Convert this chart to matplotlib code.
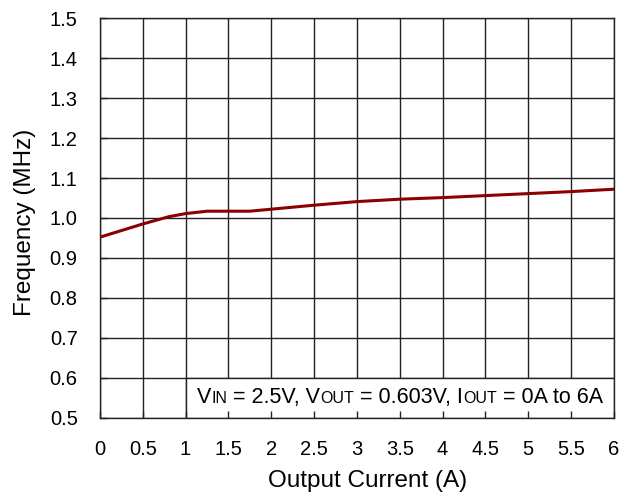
import matplotlib
matplotlib.use("Agg")
import matplotlib.pyplot as plt
from matplotlib.patches import Rectangle
from matplotlib.offsetbox import TextArea, HPacker, AnchoredOffsetbox
import numpy as np

plt.rcParams['font.family'] = ['Liberation Sans', 'DejaVu Sans']

# switching frequency vs load
current = [0, 0.5, 0.8, 1.0, 1.25, 1.75, 2.0, 2.5, 3.0, 3.5, 4.0, 4.5, 5.0, 5.5, 6.0]
freq = [0.952, 0.985, 1.003, 1.011, 1.017, 1.017, 1.022, 1.032, 1.041, 1.047,
        1.051, 1.056, 1.061, 1.066, 1.072]

xticks = np.arange(0, 6.01, 0.5)
yticks = np.arange(0.5, 1.501, 0.1)
xlabels = ['0', '0.5', '1', '1.5', '2', '2.5', '3', '3.5', '4', '4.5', '5', '5.5', '6']
ylabels = ['%.1f' % v for v in yticks]

fig = plt.figure(figsize=(6.36, 4.95), dpi=100)
ax = fig.add_axes([0.157, 0.1556, 0.8084, 0.808])

# grid drawn by hand so the note box can cover it
for xv in xticks:
    ax.axvline(xv, color='#222222', lw=1.0, zorder=0.5)
for yv in yticks:
    ax.axhline(yv, color='#222222', lw=1.0, zorder=0.5)

ax.plot(current, freq, color='#8b0000', lw=2.2, zorder=3)

ax.set_xlim(0, 6)
ax.set_ylim(0.5, 1.5)
ax.set_xticks(xticks)
ax.set_xticklabels(xlabels)
ax.set_yticks(yticks)
ax.set_yticklabels(ylabels)
ax.tick_params(axis='both', direction='in', length=5, width=1, color='#222222',
               labelsize=14.5)
ax.tick_params(axis='x', pad=15.5)
ax.tick_params(axis='y', pad=16)
for s in ax.spines.values():
    s.set_linewidth(1.0)
    s.set_color('#222222')

ax.set_xlabel('Output Current (A)', fontsize=17.5, labelpad=9)
ax.set_ylabel('Frequency (MHz)', fontsize=17.5, labelpad=10)
ax.xaxis.set_label_coords(0.52, -0.13)
ax.yaxis.label.set_y(0.489)

# note box in the lower right corner
ax.add_patch(Rectangle((1.0, 0.5), 5.0, 0.1, facecolor='white',
                       edgecolor='#222222', lw=1.0, zorder=1))

big = dict(fontsize=15.5, color='black')
small = dict(fontsize=11.5, color='black')
parts = [
    TextArea('V', textprops=big), TextArea('IN', textprops=small),
    TextArea(' = 2.5V, V', textprops=big), TextArea('OUT', textprops=small),
    TextArea(' = 0.603V, I', textprops=big), TextArea('OUT', textprops=small),
    TextArea(' = 0A to 6A', textprops=big),
]
note = HPacker(children=parts, align='baseline', pad=0, sep=0)
anchored = AnchoredOffsetbox(loc='center', child=note, frameon=False,
                             bbox_to_anchor=(3.5, 0.55),
                             bbox_transform=ax.transData, borderpad=0, pad=0)
anchored.set_zorder(4)
ax.add_artist(anchored)

fig.savefig('out.png', dpi=100)
